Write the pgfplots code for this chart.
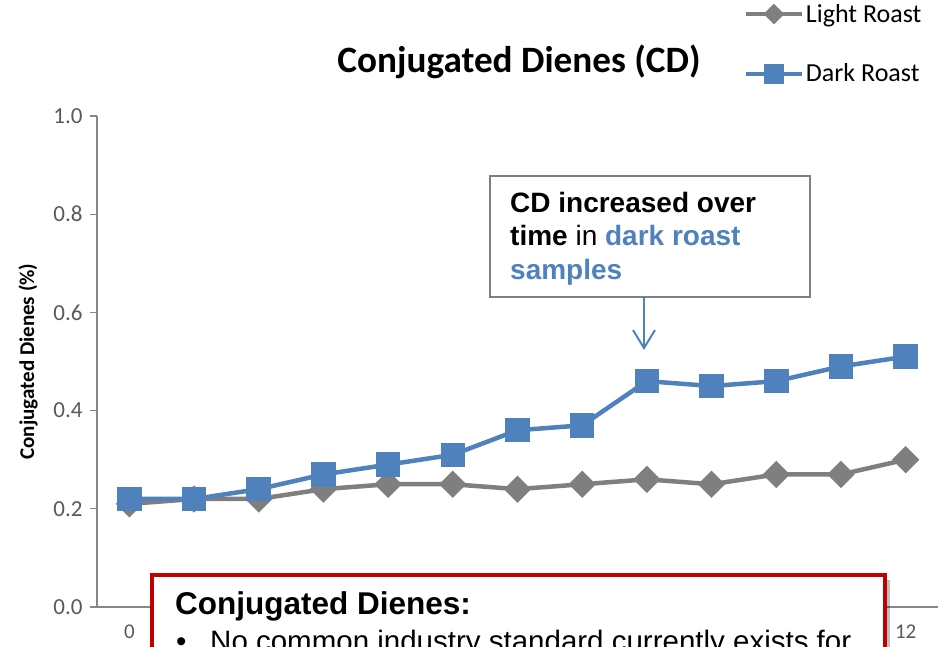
\documentclass[border=0pt]{standalone}
\usepackage{pgfplots}
\pgfplotsset{compat=1.18}
\usepackage{fontspec}
\setmainfont{Carlito}
\newfontfamily\arial{Liberation Sans}
\usetikzlibrary{arrows.meta}
\definecolor{dblue}{HTML}{4F81BD}
\definecolor{lgray}{HTML}{7F7F7F}
\definecolor{axgray}{HTML}{868686}
\definecolor{tickcol}{HTML}{595959}
\definecolor{darkred}{HTML}{C00000}
\pgfplotstableread{
x light dark
0 0.21 0.22
1 0.22 0.22
2 0.22 0.24
3 0.24 0.27
4 0.25 0.29
5 0.25 0.31
6 0.24 0.36
7 0.25 0.37
8 0.26 0.46
9 0.25 0.45
10 0.27 0.46
11 0.27 0.49
12 0.30 0.51
}\datatable
\begin{document}
\begin{tikzpicture}[x=1pt,y=1pt]
\path[use as bounding box] (0,0) rectangle (938,646);
\begin{axis}[
  at={(97pt,39pt)}, anchor=south west,
  scale only axis, width=841pt, height=491pt,
  xmin=-0.5, xmax=12.5, ymin=0, ymax=1,
  axis lines=left, axis line style={-, draw=axgray, line width=1.2pt},
  xtick={0,12}, xticklabels={0,12},
  ytick={0,0.2,0.4,0.6,0.8,1},
  xtick style={draw=none},
  ytick style={draw=axgray, line width=1.2pt},
  tick align=outside, major tick length=7pt,
  /pgf/number format/assume math mode=true,
  yticklabel style={/pgf/number format/fixed, /pgf/number format/fixed zerofill, /pgf/number format/precision=1, font=\fontsize{23}{26}\selectfont, text=tickcol, xshift=-4pt},
  xticklabel style={font=\fontsize{21}{24}\selectfont, text=tickcol, yshift=-7pt},
  ylabel={\textbf{Conjugated Dienes (\%)}},
  ylabel style={font=\fontsize{21}{24}\selectfont, at={(axis description cs:-0.082,0.5)}, anchor=center},
  clip=false,
  legend style={at={(rel axis cs:0.769,1.232)}, anchor=north west, draw=none, fill=none, font=\fontsize{26}{30}\selectfont, row sep=36pt, inner sep=0pt, nodes={inner sep=2pt}},
  legend cell align=left,
  legend image code/.code={\draw[#1, mark repeat=2, mark phase=2] plot coordinates {(0pt,0pt) (28pt,0pt) (56pt,0pt)};},
]
\addplot[lgray, line width=4.5pt, mark=square*, mark size=7.4pt, mark options={rotate=45, solid}, legend image post style={mark size=5.3pt, line width=4pt}] table[x=x, y=light] {\datatable};
\addlegendentry{Light Roast}
\addplot[dblue, line width=4.5pt, mark=square*, mark size=10pt, mark options={solid}, legend image post style={mark size=8pt, line width=4pt}] table[x=x, y=dark] {\datatable};
\addlegendentry{Dark Roast}
\end{axis}
% title
\node[anchor=base, font=\bfseries\fontsize{37.2}{41}\selectfont] at (519,573) {Conjugated Dienes (CD)};
% annotation box
\draw[lgray, line width=1.5pt, fill=white] (490,470) rectangle (810,349);
\begin{scope}[every node/.style={anchor=base west, inner sep=0pt, font=\arial\fontsize{28}{33}\selectfont}]
\node at (510,433) {\textbf{CD increased over}};
\node at (510,400) {\textbf{time} in \textcolor{dblue}{\textbf{dark roast}}};
\node at (510,366) {\textcolor{dblue}{\textbf{samples}}};
\end{scope}
\draw[dblue, line width=2pt, -{Straight Barb[length=18pt, width=22pt, line width=2pt]}] (644,349) -- (644,296);
% red box
\fill[black, opacity=0.25] (157,-30) rectangle (890,66);
\draw[darkred, line width=3.5pt, fill=white] (152,-30) rectangle (885,71);
\node[anchor=base west, inner sep=0pt, font=\arial\bfseries\fontsize{31.5}{36}\selectfont] at (175,31) {Conjugated Dienes:};
\node[anchor=base west, inner sep=0pt, font=\arial\fontsize{29.5}{34}\selectfont] at (176,-5) {•};
\node[anchor=base west, inner sep=0pt, font=\arial\fontsize{29.5}{34}\selectfont] at (210,-5) {No common industry standard currently exists for};
\end{tikzpicture}
\end{document}
